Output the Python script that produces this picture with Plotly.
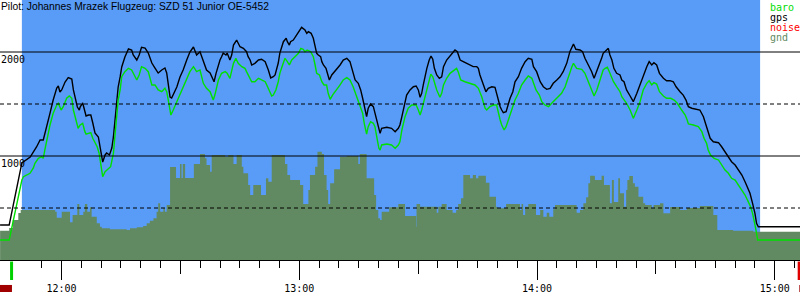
import pandas as pd
import plotly.graph_objects as go

# ---------------- data (time in minutes after 12:00, altitude in m) ----------------
BASE = pd.Timestamp("2000-01-01 12:00:00")

title_text = "Pilot: Johannes Mrazek Flugzeug: SZD 51 Junior OE-5452"

gps_points = [
    (-15.5, 337), (-13.2, 337), (-10.0, 933), (-7.9, 990), (-6.3, 1087), (-5.4, 1154), (-4.6, 1154),
    (-4.2, 1221), (-3.7, 1298), (-2.9, 1413), (-2.1, 1538), (-1.2, 1654), (-0.8, 1673), (-0.4, 1615),
    (0.05, 1635), (0.9, 1711), (1.7, 1753), (2.6, 1740), (3.0, 1635), (3.4, 1567), (4.0, 1471),
    (4.5, 1442), (4.7, 1471), (5.35, 1510), (5.9, 1442), (6.2, 1385), (6.8, 1394), (7.4, 1394),
    (7.9, 1317), (8.45, 1221), (9.3, 1183), (9.7, 1087), (10.15, 990), (10.4, 942), (11.0, 1010),
    (11.4, 1029), (12.1, 1010), (12.7, 1077), (13.1, 1183), (13.5, 1346), (13.9, 1538), (14.3, 1663),
    (14.8, 1760), (15.2, 1856), (16.0, 1952), (16.9, 2029), (17.7, 2019), (18.1, 1971), (19.0, 1923),
    (19.6, 1971), (20.2, 2045), (21.1, 2038), (21.9, 1990), (22.8, 1894), (23.6, 1846), (24.4, 1798),
    (25.3, 1827), (26.1, 1846), (26.55, 1798), (26.95, 1702), (27.4, 1567), (27.8, 1558), (28.2, 1586),
    (29.1, 1663), (29.9, 1760), (30.7, 1827), (31.6, 1923), (32.4, 2000), (33.3, 2048), (34.1, 1971),
    (34.95, 2003), (35.4, 1955), (35.8, 1894), (36.6, 1827), (37.5, 1798), (38.2, 1731), (38.5, 1714),
    (39.0, 1795), (39.6, 1875), (40.0, 1923), (40.4, 1955), (40.8, 1990), (41.5, 1971), (41.8, 1990),
    (42.5, 1923), (42.95, 1971), (43.4, 2067), (43.8, 2099), (44.2, 2115), (44.6, 2084), (45.05, 2051),
    (45.9, 2035), (46.7, 2003), (47.1, 1955), (47.6, 1923), (48.0, 1875), (48.8, 1891), (49.7, 1923),
    (50.5, 1930), (51.4, 1907), (51.8, 1875), (52.2, 1827), (52.8, 1750), (53.45, 1762), (53.9, 1779),
    (54.3, 1843), (54.7, 1894), (55.1, 1990), (55.6, 2051), (56.0, 2099), (56.7, 2132), (57.0, 2099),
    (57.5, 2067), (57.8, 2099), (58.5, 2115), (59.4, 2163), (60.2, 2211), (60.6, 2237), (61.45, 2211),
    (61.9, 2180), (62.3, 2195), (63.0, 2180), (63.55, 2132), (64.0, 2051), (64.4, 1987), (64.8, 1971),
    (65.4, 1955), (65.7, 1907), (66.1, 1875), (66.75, 1843), (67.2, 1779), (67.6, 1731), (68.2, 1779),
    (68.6, 1798), (69.45, 1827), (70.3, 1875), (71.1, 1923), (72.0, 1939), (72.8, 1907), (73.2, 1859),
    (73.6, 1811), (74.1, 1731), (74.9, 1699), (75.5, 1635), (76.0, 1555), (76.3, 1490), (76.85, 1394),
    (77.0, 1378), (77.4, 1459), (78.0, 1500), (78.7, 1474), (79.1, 1411), (79.55, 1346), (79.95, 1282),
    (80.4, 1218), (80.8, 1266), (82.1, 1276), (83.3, 1266), (84.2, 1234), (85.0, 1266), (85.4, 1298),
    (85.9, 1378), (86.7, 1507), (87.1, 1586), (87.95, 1635), (88.8, 1666), (89.5, 1673), (90.05, 1635),
    (90.5, 1564), (90.9, 1603), (91.3, 1683), (91.7, 1762), (92.2, 1843), (92.8, 1923), (93.25, 1961),
    (93.7, 1930), (94.1, 1843), (94.7, 1779), (95.35, 1747), (95.95, 1762), (96.4, 1859), (97.2, 1923),
    (97.9, 1955), (98.5, 1993), (99.3, 2019), (99.9, 2003), (100.6, 1923), (101.4, 1907), (102.3, 1891),
    (103.1, 1875), (103.9, 1859), (104.8, 1859), (105.2, 1843), (105.6, 1779), (106.45, 1683),
    (107.1, 1618), (107.7, 1651), (108.6, 1666), (109.4, 1661), (109.8, 1603), (110.2, 1522),
    (110.7, 1474), (111.1, 1442), (111.5, 1416), (112.2, 1426), (112.5, 1474), (113.2, 1555),
    (113.9, 1618), (114.45, 1714), (115.3, 1762), (116.1, 1843), (117.0, 1907), (117.8, 1939),
    (118.7, 1930), (119.1, 1859), (119.9, 1811), (120.8, 1714), (121.6, 1666), (122.45, 1641),
    (123.3, 1651), (124.1, 1699), (125.0, 1731), (125.8, 1762), (126.6, 1811), (127.5, 1891),
    (128.3, 2003), (129.2, 2077), (129.8, 2026), (130.85, 2019), (131.5, 2003), (132.1, 1939),
    (132.95, 1875), (133.8, 1811), (134.4, 1747), (135.1, 1811), (135.9, 1891), (136.3, 1939),
    (136.7, 1987), (137.6, 2026), (138.0, 2035), (138.4, 1971), (138.9, 1923), (139.4, 1843),
    (140.1, 1795), (140.95, 1779), (141.4, 1731), (141.96, 1714), (142.6, 1635), (143.5, 1577),
    (144.3, 1522), (145.2, 1603), (146.0, 1683), (146.8, 1779), (147.7, 1859), (148.3, 1907),
    (148.95, 1875), (149.5, 1897), (150.2, 1875), (150.9, 1795), (151.9, 1747), (152.7, 1724),
    (153.6, 1724), (154.4, 1714), (155.1, 1666), (156.1, 1618), (156.9, 1586), (157.6, 1538),
    (158.2, 1474), (159.05, 1459), (160.3, 1452), (161.1, 1442), (162.0, 1378), (162.65, 1298),
    (163.2, 1218), (163.7, 1170), (164.5, 1137), (165.8, 1128), (166.6, 1089), (167.45, 1041),
    (168.3, 993), (169.1, 945), (170.0, 913), (170.8, 872), (171.7, 817), (172.5, 753), (173.1, 705),
    (173.75, 641), (174.4, 545), (175.0, 449), (175.4, 353), (175.85, 320), (186.4, 320),
]

baro_points = [
    (-15.5, 192), (-13.2, 192), (-10.0, 769), (-9.6, 801), (-7.95, 834), (-7.1, 885), (-6.7, 930),
    (-5.85, 978), (-5.0, 993), (-4.6, 978), (-4.2, 1058), (-3.7, 1154), (-2.9, 1298), (-2.1, 1411),
    (-1.2, 1490), (-0.8, 1507), (-0.1, 1442), (0.45, 1474), (1.3, 1555), (1.97, 1577), (2.6, 1555),
    (3.0, 1442), (3.7, 1346), (4.2, 1266), (4.7, 1298), (5.35, 1314), (5.9, 1234), (6.2, 1211),
    (6.8, 1218), (7.4, 1224), (7.9, 1170), (8.45, 1122), (9.0, 1089), (9.5, 1026), (9.97, 897),
    (10.4, 801), (11.0, 849), (11.8, 872), (12.4, 897), (13.1, 1026), (13.5, 1186), (13.9, 1378),
    (14.3, 1538), (14.8, 1635), (15.2, 1762), (16.0, 1811), (16.9, 1843), (17.7, 1827), (18.1, 1795),
    (19.0, 1731), (19.6, 1779), (20.2, 1859), (21.1, 1843), (21.9, 1811), (22.8, 1683), (23.6, 1683),
    (24.4, 1635), (25.3, 1618), (26.1, 1651), (26.55, 1618), (26.95, 1538), (27.6, 1394), (28.2, 1442),
    (29.1, 1522), (29.9, 1586), (30.7, 1666), (31.6, 1747), (32.4, 1811), (33.3, 1859), (34.1, 1811),
    (34.95, 1827), (35.4, 1762), (35.8, 1699), (36.6, 1651), (37.5, 1618), (38.3, 1538), (38.7, 1586),
    (39.6, 1731), (40.4, 1795), (41.3, 1811), (41.8, 1795), (42.5, 1747), (42.95, 1827), (43.4, 1891),
    (44.0, 1939), (44.6, 1891), (45.5, 1859), (46.3, 1843), (46.7, 1811), (47.4, 1762), (48.0, 1714),
    (48.8, 1714), (49.7, 1747), (50.5, 1731), (51.4, 1714), (51.8, 1683), (52.6, 1603), (53.05, 1577),
    (53.45, 1586), (54.1, 1635), (54.7, 1714), (55.1, 1795), (55.8, 1875), (56.4, 1939), (57.0, 1907),
    (57.5, 1875), (58.1, 1923), (58.9, 1955), (59.8, 1987), (60.4, 2035), (61.0, 2026), (61.45, 2003),
    (62.0, 2019), (62.9, 2003), (63.55, 1955), (64.0, 1875), (64.4, 1795), (65.1, 1779), (65.7, 1714),
    (66.25, 1683), (66.9, 1683), (67.3, 1603), (67.8, 1545), (68.4, 1586), (69.45, 1635), (70.3, 1683),
    (71.1, 1731), (72.0, 1753), (72.8, 1731), (73.6, 1666), (74.5, 1570), (75.3, 1490), (76.0, 1411),
    (76.4, 1314), (77.0, 1211), (77.4, 1282), (78.0, 1330), (78.7, 1314), (79.1, 1282), (79.55, 1186),
    (80.1, 1074), (80.4, 1058), (80.8, 1106), (82.1, 1115), (83.3, 1106), (84.2, 1074), (85.0, 1106),
    (85.4, 1137), (85.9, 1250), (86.7, 1378), (87.5, 1459), (88.4, 1490), (89.5, 1490), (90.05, 1442),
    (90.5, 1394), (90.9, 1442), (91.7, 1570), (92.6, 1714), (93.2, 1788), (93.7, 1762), (94.1, 1714),
    (94.7, 1635), (95.5, 1564), (95.95, 1603), (96.4, 1683), (97.2, 1747), (98.05, 1795), (98.9, 1820),
    (99.7, 1843), (100.1, 1811), (100.75, 1731), (101.8, 1714), (103.1, 1699), (104.35, 1683),
    (105.2, 1651), (106.05, 1570), (106.9, 1459), (107.3, 1442), (108.1, 1474), (109.0, 1490),
    (109.8, 1490), (110.2, 1411), (110.7, 1346), (111.1, 1298), (111.7, 1250), (112.2, 1282),
    (112.8, 1346), (113.6, 1442), (114.45, 1538), (115.3, 1603), (116.1, 1683), (117.0, 1731),
    (117.8, 1769), (118.7, 1747), (119.1, 1699), (119.75, 1635), (120.6, 1586), (121.2, 1522),
    (122.0, 1490), (122.9, 1474), (123.7, 1507), (124.55, 1538), (125.4, 1570), (126.2, 1603),
    (127.1, 1666), (127.9, 1762), (128.8, 1859), (129.2, 1891), (130.0, 1843), (131.3, 1833),
    (132.1, 1795), (132.95, 1714), (133.8, 1635), (134.4, 1577), (135.1, 1635), (135.9, 1731),
    (136.3, 1779), (136.7, 1827), (137.2, 1843), (137.75, 1853), (138.25, 1811), (138.6, 1779),
    (139.3, 1714), (140.1, 1666), (140.95, 1618), (141.4, 1570), (141.96, 1545), (142.6, 1507),
    (143.5, 1442), (144.3, 1362), (145.2, 1442), (146.0, 1522), (146.8, 1635), (147.7, 1699),
    (148.3, 1724), (148.95, 1683), (149.5, 1705), (150.2, 1692), (150.9, 1618), (151.9, 1577),
    (152.7, 1555), (153.75, 1555), (154.6, 1538), (155.4, 1507), (156.5, 1442), (157.4, 1394),
    (157.9, 1346), (158.2, 1308), (159.45, 1298), (160.7, 1282), (161.6, 1234), (162.15, 1170),
    (162.8, 1122), (163.2, 1058), (163.8, 1010), (164.7, 978), (165.8, 962), (166.6, 913),
    (167.45, 865), (168.3, 834), (169.1, 786), (170.0, 769), (170.8, 721), (171.7, 673), (172.5, 625),
    (173.3, 561), (173.9, 512), (174.4, 449), (174.8, 385), (175.1, 320), (175.4, 257), (175.7, 192),
    (186.4, 192),
]

# ground elevation under the track (stepped profile: value holds until next time)
gnd_points = [
    (-15.5, 282), (-13.2, 308), (-12.3, 385), (-10.9, 452), (-10.3, 481), (-1.6, 464), (-1.2, 407),
    (0.05, 464), (2.15, 362), (2.8, 433), (4.0, 538), (4.5, 433), (5.5, 464), (5.9, 538), (6.5, 464),
    (7.2, 507), (7.6, 416), (8.9, 353), (9.7, 320), (10.15, 305), (12.2, 295), (16.45, 288), (17.3, 305),
    (19.0, 314), (20.6, 327), (21.5, 353), (22.3, 378), (23.2, 401), (24.0, 464), (24.4, 545),
    (24.9, 464), (25.7, 497), (26.1, 464), (26.55, 529), (27.4, 894), (28.9, 788), (29.9, 923),
    (30.3, 788), (30.6, 923), (31.2, 788), (33.4, 923), (34.95, 1019), (36.2, 978), (36.6, 913),
    (37.5, 849), (37.9, 1010), (41.3, 993), (42.1, 1010), (43.4, 923), (44.2, 1010), (45.5, 897),
    (45.9, 834), (47.1, 721), (47.6, 625), (48.4, 721), (50.35, 625), (51.6, 786), (52.2, 753),
    (53.05, 1010), (56.4, 923), (57.0, 817), (57.7, 769), (60.2, 721), (61.0, 538), (62.3, 673),
    (62.7, 817), (64.0, 897), (64.6, 1041), (65.7, 1019), (66.25, 817), (66.9, 673), (67.3, 538),
    (67.8, 737), (68.8, 872), (70.3, 993), (72.0, 1000), (74.9, 923), (75.3, 1019), (77.0, 786),
    (78.9, 625), (79.4, 481), (79.95, 401), (80.4, 385), (80.8, 464), (82.7, 507), (85.0, 538),
    (86.7, 423), (89.5, 320), (89.6, 538), (90.5, 512), (94.7, 455), (95.1, 512), (95.95, 538),
    (97.2, 481), (98.7, 455), (99.6, 481), (100.1, 538), (100.8, 593), (101.4, 817), (103.1, 786),
    (103.8, 817), (104.6, 786), (105.2, 811), (107.1, 743), (108.0, 609), (109.65, 512), (110.0, 497),
    (112.2, 538), (115.7, 481), (116.1, 538), (116.5, 433), (117.0, 512), (117.8, 538), (119.75, 433),
    (120.8, 481), (121.6, 416), (122.45, 455), (123.1, 416), (124.1, 487), (124.55, 529), (130.0, 455),
    (130.85, 481), (131.7, 545), (132.4, 603), (132.95, 737), (133.4, 811), (134.6, 769), (136.3, 811),
    (136.9, 721), (138.4, 545), (138.9, 769), (139.4, 558), (140.5, 786), (140.95, 641), (141.96, 512),
    (142.5, 673), (142.8, 769), (143.3, 808), (144.2, 737), (144.7, 705), (145.6, 609), (146.8, 545),
    (147.3, 529), (148.95, 497), (149.4, 529), (151.05, 545), (151.9, 449), (153.6, 510), (156.1, 481),
    (157.8, 500), (161.1, 519), (164.5, 433), (165.5, 288), (169.5, 282), (174.6, 272), (186.4, 272),
]

view_range_min = [-15.52, 186.37]        # visible time window
flight_span_min = [-10.0, 176.3]         # blue band
takeoff_min = -12.6
landing_min = 186.1
noise_spans_min = [(-15.6, -12.5), (186.2, 186.5)]
grid_solid_m = [1000, 2000]
grid_dashed_m = [500, 1500]
y_label_values = [1000, 2000]
legend_items = [("baro", "#00dd00"), ("gps", "#000000"), ("noise", "#ff0000"), ("gnd", "#628a62")]

# ---------------- styling ----------------
BLUE = "#589cf8"
GND = "#628a62"
BARO = "#00e000"
MONO = "DejaVu Sans Mono"


def at(minutes):
    return [BASE + pd.Timedelta(minutes=m) for m in minutes]


def split(points):
    return at([p[0] for p in points]), [p[1] for p in points]


gps_t, gps_alt = split(gps_points)
baro_t, baro_alt = split(baro_points)
gnd_t, gnd_alt = split(gnd_points)

fig = go.Figure()
fig.add_trace(go.Scatter(x=gnd_t, y=gnd_alt, mode="lines", fill="tozeroy", fillcolor=GND,
                         line=dict(width=0, shape="hv", color=GND), hoverinfo="skip"))
fig.add_trace(go.Scatter(x=gps_t, y=gps_alt, mode="lines", line=dict(color="black", width=1.4)))
fig.add_trace(go.Scatter(x=baro_t, y=baro_alt, mode="lines", line=dict(color=BARO, width=1.4)))
# helper trace for the half-hour tick axis
fig.add_trace(go.Scatter(x=[], y=[], xaxis="x2", yaxis="y", hoverinfo="skip"))

rng = at(view_range_min)
shapes = []
f0, f1 = at(flight_span_min)
shapes.append(dict(type="rect", xref="x", yref="paper", x0=f0, x1=f1, y0=0, y1=1,
                   fillcolor=BLUE, line=dict(width=0), layer="below"))
for lv in grid_solid_m:
    shapes.append(dict(type="line", xref="paper", yref="y", x0=0, x1=1, y0=lv, y1=lv,
                       line=dict(color="black", width=1), layer="above"))
for lv in grid_dashed_m:
    shapes.append(dict(type="line", xref="paper", yref="y", x0=0, x1=1, y0=lv, y1=lv,
                       line=dict(color="black", width=1, dash="4px,3px"), layer="above"))
# takeoff / landing markers below the axis
tk = at([takeoff_min])[0]
ld = at([landing_min])[0]
shapes.append(dict(type="line", xref="x", yref="paper", x0=tk, x1=tk, y0=-0.006, y1=-0.077,
                   line=dict(color="#00d000", width=3)))
shapes.append(dict(type="line", xref="x", yref="paper", x0=ld, x1=ld, y0=-0.006, y1=-0.077,
                   line=dict(color="#e00000", width=2.5)))
for a, b in noise_spans_min:
    sa, sb = at([a, b])
    shapes.append(dict(type="rect", xref="x", yref="paper", x0=sa, x1=sb, y0=-0.096, y1=-0.123,
                       fillcolor="#a00000", line=dict(width=0)))

annotations = [dict(text=title_text, xref="paper", yref="paper", x=0, y=1, xanchor="left",
                    yanchor="top", showarrow=False, xshift=-1, yshift=1,
                    font=dict(family="Liberation Sans", size=10.3, color="black"))]
# legend: one text block, coloured line by line (line pitch 10 px)
legend_html = "<br>".join(
    f"<span style='color:{col};font-size:10px'>{name}</span>" for name, col in legend_items)
annotations.append(dict(text=legend_html, xref="paper", yref="paper", x=769 / 800, y=1,
                        xanchor="left", yanchor="top", align="left", showarrow=False,
                        xshift=-1, yshift=0,
                        font=dict(family=MONO, size=7.7, color="black")))

fig.update_layout(
    width=800, height=300, margin=dict(l=0, r=0, t=0, b=40),
    paper_bgcolor="white", plot_bgcolor="white", showlegend=False,
    shapes=shapes, annotations=annotations,
    xaxis=dict(type="date", range=rng, showgrid=False, zeroline=False, showline=True,
               linecolor="black", linewidth=1, ticks="outside", ticklen=19, tickwidth=1,
               tickcolor="black", dtick=3600000, tick0=BASE, tickformat="%H:%M",
               tickfont=dict(family=MONO, size=10, color="black"),
               minor=dict(dtick=300000, tick0=BASE, ticks="outside", ticklen=7, tickwidth=1,
                          tickcolor="black", showgrid=False)),
    xaxis2=dict(type="date", overlaying="x", anchor="y", side="bottom", range=rng,
                showgrid=False, zeroline=False, showline=False, ticks="outside", ticklen=13,
                tickwidth=1, tickcolor="black", dtick=1800000, tick0=BASE, showticklabels=False),
    yaxis=dict(range=[0, 2500], showgrid=False, zeroline=False, showline=False,
               tickmode="array", tickvals=y_label_values, ticktext=[str(v) for v in y_label_values],
               ticks="", ticklabelposition="inside", ticklabelshift=7, ticklabelstandoff=-2,
               tickfont=dict(family=MONO, size=10, color="black")),
)

fig.write_html("out.html")
